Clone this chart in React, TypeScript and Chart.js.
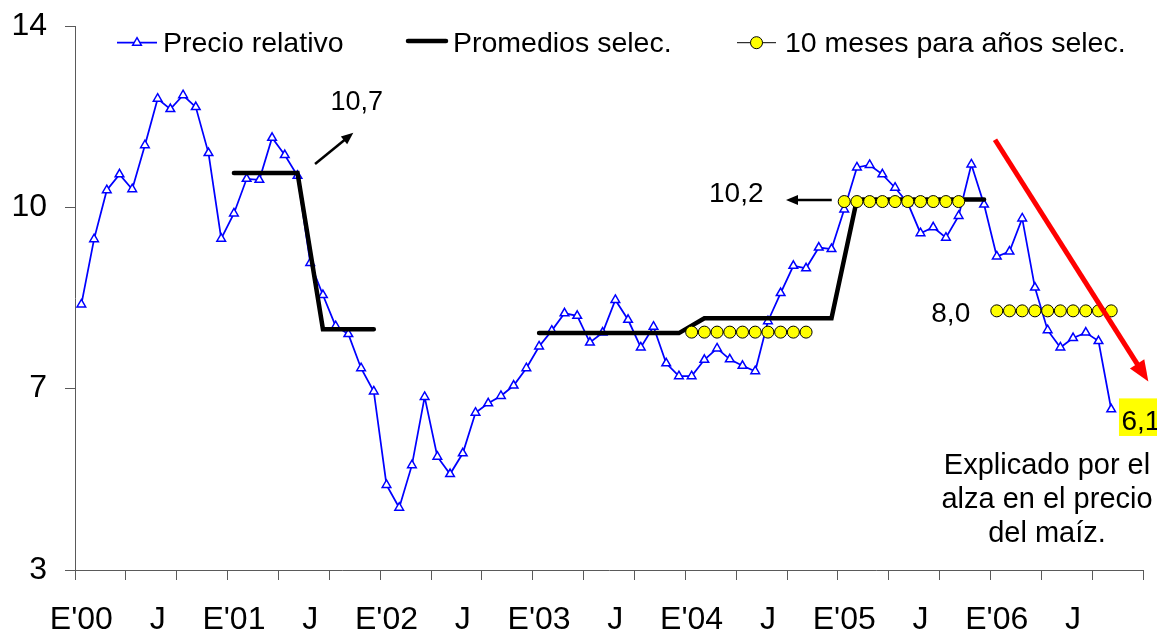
import React, { useEffect, useRef } from 'react';
import { Chart, registerables } from 'chart.js';

Chart.register(...registerables);

const FONT = "'Liberation Sans', Arial, Helvetica, sans-serif";
const N = null;

// x categories: Jan 2000 .. Dec 2006 (E = Enero, J = Julio)
const yearTags = ['00', '01', '02', '03', '04', '05', '06'];
const monthLabels: string[] = yearTags.flatMap((y) =>
  Array.from({ length: 12 }, (_, m) => (m === 0 ? `E'${y}` : m === 6 ? 'J' : ''))
);

// y axis ticks (Excel-like major unit 11/3, labels rounded)
const yTickValues = [3, 6.667, 10.333, 14];
const yTickLabels = ['3', '7', '10', '14'];

// Precio relativo, monthly Jan 2000 .. Oct 2006
const precioRelativo = [
  8.37, 9.69, 10.68, 11.0, 10.7, 11.59, 12.53, 12.32, 12.6, 12.36, 11.43, 9.7,
  10.21, 10.91, 10.89, 11.74, 11.39, 10.97, 9.21, 8.56, 7.93, 7.77, 7.08, 6.61,
  4.72, 4.26, 5.12, 6.5, 5.29, 4.94, 5.36, 6.18, 6.37, 6.52, 6.73, 7.08,
  7.52, 7.84, 8.19, 8.14, 7.6, 7.8, 8.46, 8.06, 7.5, 7.92, 7.18, 6.92,
  6.92, 7.25, 7.48, 7.26, 7.13, 7.02, 8.03, 8.6, 9.15, 9.1, 9.52, 9.49,
  10.29, 11.14, 11.19, 11.0, 10.73, 10.42, 9.81, 9.93, 9.72, 10.16, 11.2, 10.39,
  9.34, 9.44, 10.11, 8.71, 7.85, 7.5, 7.69, 7.8, 7.63, 6.25,
];

// Promedios selec.
const promedios = [
  N, N, N, N, N, N, N, N, N, N, N, N,
  11.03, 11.03, 11.03, 11.03, 11.03, 11.03, N, 7.87, 7.87, 7.87, 7.87, 7.87,
  N, N, N, N, N, N, N, N, N, N, N, N,
  7.79, 7.79, 7.79, 7.79, 7.79, 7.79, 7.79, 7.79, 7.79, 7.79, 7.79, 7.79,
  N, 8.09, 8.09, 8.09, 8.09, 8.09, 8.09, 8.09, 8.09, 8.09, 8.09, 8.09,
  N, 10.49, 10.49, 10.49, 10.49, 10.49, 10.49, 10.49, 10.49, 10.49, 10.49, 10.49,
  N, N, N, N, N, N, N, N, N, N, N, N,
];
// the averages are drawn as two separate runs (2001-2002 and 2003-2006)
const promediosRun1 = promedios.map((v, i) => (i < 24 ? v : null));
const promediosRun2 = promedios.map((v, i) => (i >= 24 ? v : null));

// 10 meses para años selec.
const diezMeses = [
  N, N, N, N, N, N, N, N, N, N, N, N,
  N, N, N, N, N, N, N, N, N, N, N, N,
  N, N, N, N, N, N, N, N, N, N, N, N,
  N, N, N, N, N, N, N, N, N, N, N, N,
  7.81, 7.81, 7.81, 7.81, 7.81, 7.81, 7.81, 7.81, 7.81, 7.81, N, N,
  10.45, 10.45, 10.45, 10.45, 10.45, 10.45, 10.45, 10.45, 10.45, 10.45, N, N,
  8.24, 8.24, 8.24, 8.24, 8.24, 8.24, 8.24, 8.24, 8.24, 8.24, N, N,
];

// annotations, positioned in (month index, value) coordinates
const valueNotes = [
  { text: '10,7', m: 21.66, v: 12.3, size: 27 },
  { text: '10,2', m: 51.51, v: 10.44, size: 28 },
  { text: '8,0', m: 68.38, v: 8.02, size: 28 },
];
const arrows = [
  { from: [18.38, 11.21], to: [21.39, 11.84], color: '#000000', width: 2.5, head: 12, headW: 10 },
  { from: [59.02, 10.48], to: [55.42, 10.48], color: '#000000', width: 2.5, head: 12, headW: 10 },
  { from: [71.86, 11.7], to: [83.92, 6.81], color: '#FF0000', width: 5, head: 21, headW: 17 },
];
const lastNote = { text: '6,1', m: 81.81, v: 5.83, boxLeft: 81.61, boxTop: 6.47, boxBottom: 5.71 };
const explanation = { lines: ['Explicado por el', 'alza en el precio', 'del maíz.'], m: 75.95, v: 4.94, lineGap: 34 };

const legendItems = [
  { text: 'Precio relativo', kind: 'tri' },
  { text: 'Promedios selec.', kind: 'thick' },
  { text: '10 meses para años selec.', kind: 'dot' },
];
const legendX = [[117, 157, 163], [406, 448, 453], [737, 776, 785]];

function drawArrow(ctx: CanvasRenderingContext2D, x1: number, y1: number, x2: number, y2: number, color: string, width: number, headLen: number, headW: number) {
  const ang = Math.atan2(y2 - y1, x2 - x1);
  const bx = x2 - headLen * Math.cos(ang);
  const by = y2 - headLen * Math.sin(ang);
  ctx.save();
  ctx.strokeStyle = color;
  ctx.lineWidth = width;
  ctx.lineCap = 'butt';
  ctx.beginPath();
  ctx.moveTo(x1, y1);
  ctx.lineTo(bx + Math.cos(ang), by + Math.sin(ang));
  ctx.stroke();
  ctx.fillStyle = color;
  ctx.beginPath();
  ctx.moveTo(x2, y2);
  ctx.lineTo(bx + (headW / 2) * Math.sin(ang), by - (headW / 2) * Math.cos(ang));
  ctx.lineTo(bx - (headW / 2) * Math.sin(ang), by + (headW / 2) * Math.cos(ang));
  ctx.closePath();
  ctx.fill();
  ctx.restore();
}

const annotationPlugin = {
  id: 'annotationPlugin',
  afterDatasetsDraw(chart: any) {
    const { ctx } = chart;
    const xs = chart.scales.x;
    const ys = chart.scales.y;
    const px = (m: number) => xs.getPixelForValue(m);
    const py = (v: number) => ys.getPixelForValue(v);
    ctx.save();
    arrows.forEach((a) => {
      drawArrow(ctx, px(a.from[0]), py(a.from[1]), px(a.to[0]), py(a.to[1]), a.color, a.width, a.head, a.headW);
    });
    ctx.fillStyle = '#000';
    ctx.textBaseline = 'alphabetic';
    valueNotes.forEach((n) => {
      ctx.font = `${n.size}px ${FONT}`;
      ctx.textAlign = 'center';
      ctx.fillText(n.text, px(n.m), py(n.v));
    });
    // highlighted last value
    const bl = px(lastNote.boxLeft);
    const bt = py(lastNote.boxTop);
    const bb = py(lastNote.boxBottom);
    ctx.fillStyle = '#FFFF00';
    ctx.fillRect(bl, bt, chart.width - bl + 5, bb - bt);
    ctx.fillStyle = '#000';
    ctx.font = `28px ${FONT}`;
    ctx.textAlign = 'left';
    ctx.fillText(lastNote.text, px(lastNote.m), py(lastNote.v));
    // explanation
    ctx.font = `29px ${FONT}`;
    ctx.textAlign = 'center';
    explanation.lines.forEach((t, i) => {
      ctx.fillText(t, px(explanation.m), py(explanation.v) + i * explanation.lineGap);
    });
    ctx.restore();
  },
};

const legendPlugin = {
  id: 'customLegend',
  afterDraw(chart: any) {
    const { ctx } = chart;
    const lineY = 42.7;
    ctx.save();
    legendItems.forEach((item, i) => {
      const [x0, x1, tx] = legendX[i];
      const cx = (x0 + x1) / 2;
      if (item.kind === 'tri') {
        ctx.strokeStyle = '#0000FF';
        ctx.lineWidth = 1.75;
        ctx.beginPath();
        ctx.moveTo(x0, lineY);
        ctx.lineTo(x1, lineY);
        ctx.stroke();
        const r = 5;
        ctx.beginPath();
        ctx.moveTo(cx, lineY - r);
        ctx.lineTo(cx + r * Math.sin((2 * Math.PI) / 3), lineY + r / 2);
        ctx.lineTo(cx - r * Math.sin((2 * Math.PI) / 3), lineY + r / 2);
        ctx.closePath();
        ctx.fillStyle = '#FFFFFF';
        ctx.fill();
        ctx.lineWidth = 1.5;
        ctx.stroke();
      } else if (item.kind === 'thick') {
        ctx.strokeStyle = '#000';
        ctx.lineWidth = 4.5;
        ctx.lineCap = 'round';
        ctx.beginPath();
        ctx.moveTo(x0 + 2, 41);
        ctx.lineTo(x1 - 2, 41);
        ctx.stroke();
        ctx.lineCap = 'butt';
      } else {
        ctx.strokeStyle = '#000';
        ctx.lineWidth = 1;
        ctx.beginPath();
        ctx.moveTo(x0, lineY);
        ctx.lineTo(x1, lineY);
        ctx.stroke();
        ctx.beginPath();
        ctx.arc(cx, lineY, 6, 0, Math.PI * 2);
        ctx.fillStyle = '#FFFF00';
        ctx.fill();
        ctx.stroke();
      }
      ctx.fillStyle = '#000';
      ctx.font = `28.5px ${FONT}`;
      ctx.textAlign = 'left';
      ctx.textBaseline = 'alphabetic';
      ctx.fillText(item.text, tx, 52);
    });
    ctx.restore();
  },
};

export default function App() {
  const canvasRef = useRef<HTMLCanvasElement | null>(null);

  useEffect(() => {
    document.body.style.margin = '0';
    const canvas = canvasRef.current;
    if (!canvas) return;
    const axisColor = '#5a5a5a';
    const promediosStyle = {
      label: 'Promedios selec.',
      borderColor: '#000000',
      borderWidth: 4.5,
      pointRadius: 0,
      spanGaps: true,
      borderCapStyle: 'round',
      borderJoinStyle: 'miter',
      order: 1,
    };
    const chart = new Chart(canvas, {
      type: 'line',
      data: {
        labels: monthLabels,
        datasets: [
          {
            label: '10 meses para años selec.',
            data: diezMeses,
            borderColor: '#000000',
            borderWidth: 1,
            pointStyle: 'circle',
            pointRadius: 6,
            pointBackgroundColor: '#FFFF00',
            pointBorderColor: '#000000',
            pointBorderWidth: 1,
            spanGaps: false,
            order: 0,
          },
          { ...promediosStyle, data: promediosRun1 },
          { ...promediosStyle, data: promediosRun2 },
          {
            label: 'Precio relativo',
            data: precioRelativo,
            borderColor: '#0000FF',
            borderWidth: 1.75,
            pointStyle: 'triangle',
            pointRadius: 5,
            pointBackgroundColor: '#FFFFFF',
            pointBorderColor: '#0000FF',
            pointBorderWidth: 1.5,
            order: 2,
          },
        ],
      } as any,
      options: {
        responsive: false,
        animation: false,
        devicePixelRatio: 1,
        layout: { padding: { top: 26, right: 14, left: 0, bottom: 0 } },
        plugins: {
          legend: { display: false },
          tooltip: { enabled: false },
        },
        scales: {
          x: {
            type: 'category',
            offset: true,
            grid: {
              display: true,
              drawOnChartArea: false,
              offset: true,
              tickLength: 10,
              tickWidth: 1,
              tickColor: (c: any) =>
                c.index === undefined || c.index % 4 === 0 ? axisColor : 'rgba(0,0,0,0)',
            },
            border: { display: true, color: axisColor, width: 1 },
            ticks: {
              autoSkip: false,
              maxRotation: 0,
              minRotation: 0,
              padding: 21,
              color: '#000',
              font: { family: FONT, size: 32 },
            },
            afterFit: (s: any) => {
              s.height = 65;
              s.paddingLeft = 0;
              s.paddingRight = 0;
            },
          },
          y: {
            type: 'linear',
            min: 3,
            max: 14,
            afterBuildTicks: (s: any) => {
              s.ticks = yTickValues.map((v) => ({ value: v }));
            },
            grid: { drawOnChartArea: false, tickLength: 10, tickColor: axisColor },
            border: { display: true, color: axisColor, width: 1 },
            ticks: {
              padding: 18,
              color: '#000',
              font: { family: FONT, size: 32 },
              callback: (_v: any, i: number) => yTickLabels[i],
            },
            afterFit: (s: any) => {
              s.width = 75;
              s.paddingTop = 0;
              s.paddingBottom = 0;
            },
          },
        },
      } as any,
      plugins: [annotationPlugin, legendPlugin],
    });
    return () => chart.destroy();
  }, []);

  return (
    <div style={{ width: 1157, height: 635, position: 'relative' }}>
      <canvas ref={canvasRef} width={1157} height={635} style={{ display: 'block' }} />
    </div>
  );
}
